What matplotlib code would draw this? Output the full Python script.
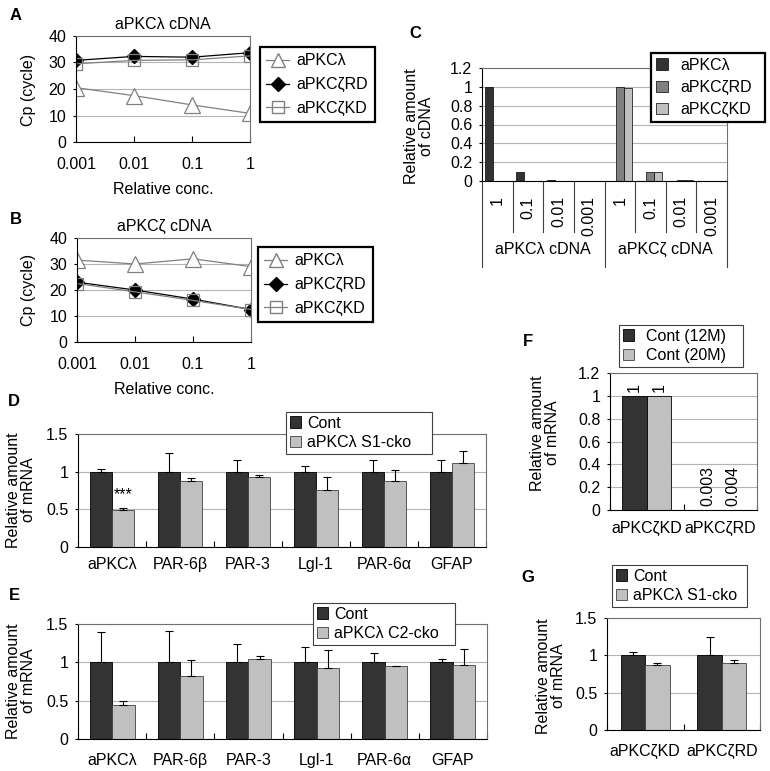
import numpy as np
import matplotlib
matplotlib.use("Agg")
import matplotlib.pyplot as plt
from matplotlib.lines import Line2D
from matplotlib.patches import Patch

plt.rcParams['font.family'] = ['Liberation Sans', 'DejaVu Sans']
FS = 11.5
plt.rcParams['font.size'] = FS

# ---- data ----
conc = ['0.001', '0.01', '0.1', '1']
cp_series = ['aPKC\u03bb', 'aPKC\u03b6RD', 'aPKC\u03b6KD']
cp_lam = [20.5, 17.5, 14.0, 10.8]      # panel A, aPKCλ cDNA
cp_lam_rd = [30.8, 32.3, 32.0, 33.7]
cp_lam_kd = [29.5, 30.8, 31.0, 32.5]
cp_zeta = [31.5, 30.0, 32.0, 29.0]     # panel B, aPKCζ cDNA
cp_zeta_rd = [23.0, 20.0, 16.5, 12.5]
cp_zeta_kd = [22.5, 19.3, 16.0, 12.5]

c_conc = ['1', '0.1', '0.01', '0.001', '1', '0.1', '0.01', '0.001']
c_groups = ['aPKC\u03bb cDNA', 'aPKC\u03b6 cDNA']
c_lam = [1.0, 0.1, 0.01, 0.001, 0, 0, 0, 0]
c_rd = [0, 0, 0, 0, 1.0, 0.1, 0.01, 0.001]
c_kd = [0, 0, 0, 0, 0.99, 0.1, 0.01, 0.001]

genes = ['aPKC\u03bb', 'PAR-6\u03b2', 'PAR-3', 'Lgl-1', 'PAR-6\u03b1', 'GFAP']
d_cont = [1, 1, 1, 1, 1, 1]
d_cont_err = [0.04, 0.25, 0.16, 0.08, 0.15, 0.15]
d_cko = [0.49, 0.88, 0.93, 0.76, 0.88, 1.12]
d_cko_err = [0.03, 0.04, 0.03, 0.17, 0.14, 0.16]

e_cont = [1, 1, 1, 1, 1, 1]
e_cont_err = [0.40, 0.41, 0.24, 0.20, 0.12, 0.04]
e_cko = [0.45, 0.82, 1.04, 0.93, 0.95, 0.97]
e_cko_err = [0.04, 0.21, 0.04, 0.23, 0.0, 0.20]

fg_cats = ['aPKC\u03b6KD', 'aPKC\u03b6RD']
f_12m = [1, 0.003]
f_20m = [1, 0.004]

g_cont = [1, 1]
g_cont_err = [0.04, 0.25]
g_cko = [0.87, 0.90]
g_cko_err = [0.03, 0.04]

DARK = '#333333'
MID = '#808080'
LIGHT = '#c0c0c0'
GRID = '#b4b4b4'

W, H = 770, 771
fig = plt.figure(figsize=(W / 100, H / 100), dpi=100)


def px_axes(x0, y0, x1, y1):
    return fig.add_axes([x0 / W, 1 - y1 / H, (x1 - x0) / W, (y1 - y0) / H])


def px_text(x, y, s, **kw):
    fig.text(x / W, 1 - y / H, s, **kw)


def style(ax):
    for s in ('top', 'right'):
        ax.spines[s].set_color('#707070')
        ax.spines[s].set_linewidth(0.8)
    for s in ('left', 'bottom'):
        ax.spines[s].set_color('black')
        ax.spines[s].set_linewidth(0.8)
    ax.yaxis.grid(True, color=GRID, lw=0.8)
    ax.set_axisbelow(True)
    ax.tick_params(axis='y', direction='out', length=2, width=0.8, pad=5, labelsize=FS)


def px_legend(ax, handles, labels, box, thick, **kw):
    x0, y0, x1, y1 = box
    leg = ax.legend(handles, labels, loc='upper left', mode='expand',
                    bbox_to_anchor=(x0 / W, 1 - y0 / H, (x1 - x0) / W, 0),
                    bbox_transform=fig.transFigure, borderaxespad=0,
                    fancybox=False, framealpha=1, fontsize=FS, **kw)
    fr = leg.get_frame()
    fr.set_edgecolor('black' if thick else '#404040')
    fr.set_linewidth(1.6 if thick else 0.8)
    return leg


def ylab(x, y, s):
    px_text(x, y, s, rotation=90, ha='center', va='center', fontsize=FS, linespacing=1.0)


# ---- A and B: line charts ----
def line_panel(box, title, ys, legbox, ytitle_y):
    ax = px_axes(*box)
    style(ax)
    x = np.arange(len(conc))
    lam, rd, kd = ys
    ax.plot(x, lam, color=MID, lw=0.9, marker='^', ms=11, mfc='white', mec=MID, mew=0.9)
    ax.plot(x, rd, color='black', lw=0.9, marker='D', ms=7.5, mfc='black', mec='black')
    ax.plot(x, kd, color=MID, lw=0.9, marker='s', ms=9, mfc='none', mec=MID, mew=0.9)
    ax.set_xlim(0, len(conc) - 1)
    ax.set_ylim(0, 40)
    ax.set_yticks([0, 10, 20, 30, 40])
    ax.set_xticks(x, conc)
    ax.tick_params(axis='x', direction='in', length=4, width=0.8, pad=11, labelsize=FS)
    ax.set_xlabel('Relative conc.', fontsize=FS, labelpad=7)
    ax.set_title(title, fontsize=FS, pad=5)
    handles = [Line2D([], [], color=MID, lw=0.9, marker='^', ms=10, mfc='white', mec=MID),
               Line2D([], [], color='black', lw=0.9, marker='D', ms=7, mfc='black'),
               Line2D([], [], color=MID, lw=0.9, marker='s', ms=8, mfc='none', mec=MID)]
    px_legend(ax, handles, cp_series, legbox, True, handlelength=1.4,
              handletextpad=0.45, labelspacing=0.55, borderpad=0.4)
    ylab(28, ytitle_y, 'Cp (cycle)')
    return ax


line_panel((76, 36, 250, 142), 'aPKC\u03bb cDNA', (cp_lam, cp_lam_rd, cp_lam_kd),
           (260, 47, 375, 124), 90)
line_panel((77, 238, 251, 342), 'aPKC\u03b6 cDNA', (cp_zeta, cp_zeta_rd, cp_zeta_kd),
           (258, 247, 373, 327), 290)

# ---- C: relative amount of cDNA ----
axc = px_axes(482, 68, 727, 181)
style(axc)
xc = np.arange(len(c_conc))
wc = 0.26
axc.bar(xc - wc, c_lam, wc, color=DARK, edgecolor='black', lw=0.5)
axc.bar(xc, c_rd, wc, color=MID, edgecolor='black', lw=0.5)
axc.bar(xc + wc, c_kd, wc, color=LIGHT, edgecolor='black', lw=0.5)
axc.set_xlim(-0.5, len(c_conc) - 0.5)
axc.set_ylim(0, 1.2)
yt = [0, 0.2, 0.4, 0.6, 0.8, 1.0, 1.2]
ytl = ['0', '0.2', '0.4', '0.6', '0.8', '1', '1.2']
axc.set_yticks(yt, ytl)
axc.set_xticks(xc, c_conc, rotation=90)
axc.tick_params(axis='x', length=0, pad=11, labelsize=FS)
trans = axc.get_xaxis_transform()
ngrp = len(c_groups)
per = len(c_conc) // ngrp
for b in np.arange(len(c_conc) + 1) - 0.5:
    outer = (b + 0.5) % per == 0
    axc.plot([b, b], [0, -0.76 if outer else -0.45], transform=trans,
             clip_on=False, color='#404040', lw=0.8)
for i, g in enumerate(c_groups):
    axc.text(i * per + (per - 1) / 2, -0.61, g, transform=trans, ha='center',
             va='center', fontsize=FS)
handles = [Patch(facecolor=c, edgecolor='black', lw=0.5) for c in (DARK, MID, LIGHT)]
px_legend(axc, handles, cp_series, (651, 53, 765, 123), True, handlelength=0.75,
          handleheight=0.75, handletextpad=0.8, labelspacing=0.45, borderpad=0.3)
ylab(419, 126, 'Relative amount\nof cDNA')


# ---- D, E, G: mRNA with error bars ----
def err_panel(box, cats, cont, cont_err, cko, cko_err, labels, legbox, w, xpad, ylab_xy):
    ax = px_axes(*box)
    style(ax)
    x = np.arange(len(cats))
    ax.bar(x - w / 2, cont, w, color=DARK, edgecolor='black', lw=0.6, zorder=2)
    ax.bar(x + w / 2, cko, w, color=LIGHT, edgecolor='#404040', lw=0.6, zorder=2)
    zeros = np.zeros(len(cats))
    ax.errorbar(x - w / 2, cont, yerr=[zeros, cont_err], fmt='none', ecolor='black',
                elinewidth=0.8, capsize=3, capthick=0.8, zorder=3)
    ax.errorbar(x + w / 2, cko, yerr=[zeros, cko_err], fmt='none', ecolor='black',
                elinewidth=0.8, capsize=3, capthick=0.8, zorder=3)
    ax.set_xlim(-0.5, len(cats) - 0.5)
    ax.set_ylim(0, 1.5)
    ax.set_yticks([0, 0.5, 1, 1.5], ['0', '0.5', '1', '1.5'])
    ax.set_xticks(x, cats)
    ax.set_xticks(np.arange(len(cats) + 1) - 0.5, minor=True)
    ax.tick_params(axis='x', which='major', length=0, pad=xpad, labelsize=FS)
    ax.tick_params(axis='x', which='minor', direction='in', length=4, width=0.8)
    handles = [Patch(facecolor=DARK, edgecolor='black', lw=0.6),
               Patch(facecolor=LIGHT, edgecolor='#404040', lw=0.6)]
    px_legend(ax, handles, labels, legbox, False, handlelength=0.7, handleheight=0.7,
              handletextpad=0.4, labelspacing=0.3, borderpad=0.22)
    ylab(ylab_xy[0], ylab_xy[1], 'Relative amount\nof mRNA')
    return ax


wb = 0.33
axd = err_panel((78, 434, 486, 547), genes, d_cont, d_cont_err, d_cko, d_cko_err,
                ['Cont', 'aPKC\u03bb S1-cko'], (286, 412, 432, 456), wb, 7, (21, 490))
axd.text(0 + wb / 2, 0.6, '***', ha='center', va='bottom', fontsize=FS)

err_panel((78, 624, 487, 739), genes, e_cont, e_cont_err, e_cko, e_cko_err,
          ['Cont', 'aPKC\u03bb C2-cko'], (313, 603, 455, 647), wb, 10, (21, 681))

err_panel((607, 618, 760, 730), fg_cats, g_cont, g_cont_err, g_cko, g_cko_err,
          ['Cont', 'aPKC\u03bb S1-cko'], (612, 565, 747, 609), 0.32, 10, (551, 676))

# ---- F ----
axf = px_axes(610, 373, 757, 510)
style(axf)
xf = np.arange(len(fg_cats))
wf = 0.33
for off, vals, col in ((-wf / 2, f_12m, DARK), (wf / 2, f_20m, LIGHT)):
    axf.bar(xf + off, vals, wf, color=col, edgecolor='black', lw=0.6, zorder=2)
    for xi, v in zip(xf + off, vals):
        axf.text(xi, v + 0.03, f'{v:g}', rotation=90, ha='center', va='bottom', fontsize=FS)
axf.set_xlim(-0.5, len(fg_cats) - 0.5)
axf.set_ylim(0, 1.2)
axf.set_yticks(yt, ytl)
axf.set_xticks(xf, fg_cats)
axf.set_xticks(np.arange(len(fg_cats) + 1) - 0.5, minor=True)
axf.tick_params(axis='x', which='major', length=0, pad=8, labelsize=FS)
axf.tick_params(axis='x', which='minor', direction='in', length=4, width=0.8)
handles = [Patch(facecolor=DARK, edgecolor='black', lw=0.6),
           Patch(facecolor=LIGHT, edgecolor='#404040', lw=0.6)]
px_legend(axf, handles, ['Cont (12M)', 'Cont (20M)'], (619, 325, 743, 368), False,
          handlelength=0.7, handleheight=0.7, handletextpad=0.8, labelspacing=0.3,
          borderpad=0.22)
ylab(545, 433, 'Relative amount\nof mRNA')

# ---- panel letters ----
for letter, (lx, ly) in {'A': (16, 15), 'B': (16, 220), 'C': (415, 33), 'D': (14, 402),
                         'E': (14, 595), 'F': (528, 342), 'G': (528, 577)}.items():
    px_text(lx, ly, letter, ha='center', va='center', fontsize=12, fontweight='bold')

fig.savefig('out.png', dpi=100)
